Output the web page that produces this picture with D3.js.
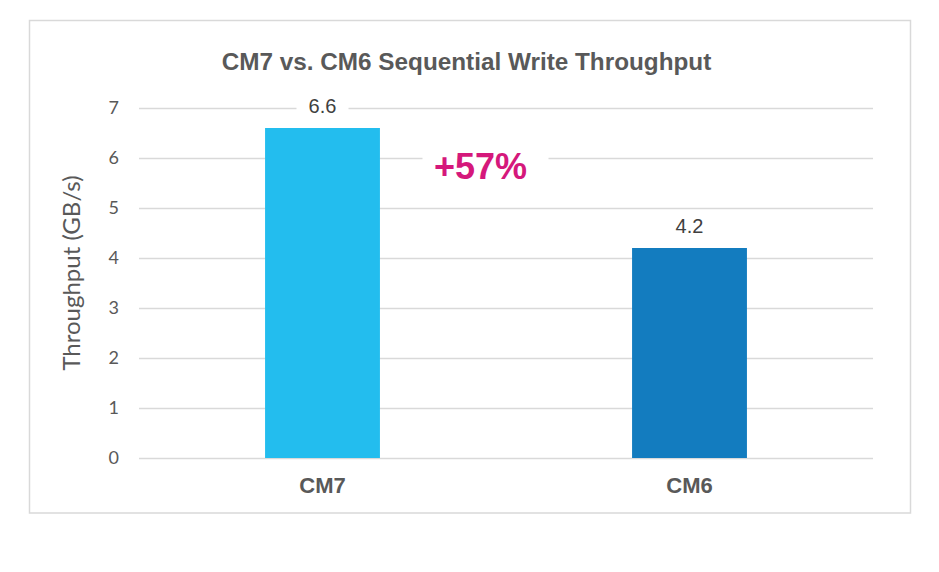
<!DOCTYPE html>
<html>
<head>
<meta charset="utf-8">
<script src="https://cdn.jsdelivr.net/npm/d3@7"></script>
<style>
  html, body { margin: 0; padding: 0; background: #fff; }
  svg { display: block; }
</style>
</head>
<body>
<svg id="chart" width="939" height="572"></svg>
<script>
const categories = ["CM7", "CM6"];
const values = [6.6, 4.2];
const valueLabels = ["6.6", "4.2"];
const barColors = ["#23BDEE", "#137CBF"];
const yTicks = [0, 1, 2, 3, 4, 5, 6, 7];
const title = "CM7 vs. CM6 Sequential Write Throughput";
const yTitle = "Throughput (GB/s)";
const annotation = "+57%";

const svg = d3.select("#chart");
const margin = { left: 139, right: 939 - 873, top: 108, bottom: 572 - 458 };
const W = 939, H = 572;

// outer border
svg.append("rect")
  .attr("x", 29.5).attr("y", 20.5)
  .attr("width", 881).attr("height", 492.5)
  .attr("fill", "#fff").attr("stroke", "#d9d9d9").attr("stroke-width", 1.5);

const x = d3.scaleBand()
  .domain(categories)
  .range([margin.left, W - margin.right])
  .paddingInner(0.687)
  .paddingOuter(0.687 / 2);

const y = d3.scaleLinear()
  .domain([0, 7])
  .range([H - margin.bottom, margin.top]);

// gridlines
const yAxis = d3.axisLeft(y)
  .tickValues(yTicks)
  .tickSize(-(W - margin.left - margin.right))
  .tickPadding(20)
  .tickFormat(d3.format("d"));

const gy = svg.append("g")
  .attr("transform", `translate(${margin.left},0)`)
  .call(yAxis);
gy.select(".domain").remove();
gy.selectAll(".tick line").attr("stroke", "#d9d9d9").attr("stroke-width", 1.3);
gy.selectAll(".tick text")
  .attr("fill", "#595959")
  .style("font-family", "Lato, 'Open Sans', sans-serif")
  .style("font-size", "18px");

// bars
svg.append("g").selectAll("rect")
  .data(categories)
  .join("rect")
  .attr("x", d => x(d))
  .attr("width", x.bandwidth())
  .attr("y", (d, i) => y(values[i]))
  .attr("height", (d, i) => y(0) - y(values[i]))
  .attr("fill", (d, i) => barColors[i]);

// value labels with white background
const vl = svg.append("g").selectAll("g")
  .data(categories)
  .join("g")
  .attr("transform", (d, i) => `translate(${x(d) + x.bandwidth() / 2},${y(values[i]) - 15.5})`);
vl.append("rect")
  .attr("x", -26).attr("y", -16).attr("width", 52).attr("height", 22)
  .attr("fill", "#fff");
vl.append("text")
  .attr("text-anchor", "middle")
  .attr("fill", "#404040")
  .style("font-family", "'Liberation Sans', Arial, sans-serif")
  .style("font-size", "20px")
  .text((d, i) => valueLabels[i]);

// category labels
svg.append("g").selectAll("text")
  .data(categories)
  .join("text")
  .attr("x", d => x(d) + x.bandwidth() / 2)
  .attr("y", H - margin.bottom + 35)
  .attr("text-anchor", "middle")
  .attr("fill", "#595959")
  .style("font-family", "'Liberation Sans', Arial, sans-serif")
  .style("font-weight", "bold")
  .style("font-size", "22px")
  .text(d => d);

// title
svg.append("text")
  .attr("x", 466.5).attr("y", 70)
  .attr("text-anchor", "middle")
  .attr("fill", "#595959")
  .style("font-family", "'Liberation Sans', Arial, sans-serif")
  .style("font-weight", "bold")
  .style("font-size", "24.3px")
  .text(title);

// y axis title
svg.append("text")
  .attr("transform", `translate(80,273) rotate(-90)`)
  .attr("text-anchor", "middle")
  .attr("fill", "#595959")
  .style("font-family", "Lato, 'Open Sans', sans-serif")
  .style("font-size", "24px")
  .text(yTitle);

// annotation
const ann = svg.append("g")
  .attr("transform", `translate(${(x("CM7") + x.bandwidth() + x("CM6")) / 2 - 25.5},${y(6) + 20.5})`);
ann.append("rect")
  .attr("x", -58).attr("y", -26).attr("width", 126).attr("height", 34)
  .attr("fill", "#fff");
ann.append("text")
  .attr("text-anchor", "middle")
  .attr("fill", "#D5187B")
  .style("font-family", "'Liberation Sans', Arial, sans-serif")
  .style("font-weight", "bold")
  .style("font-size", "36px")
  .text(annotation);
</script>
</body>
</html>
